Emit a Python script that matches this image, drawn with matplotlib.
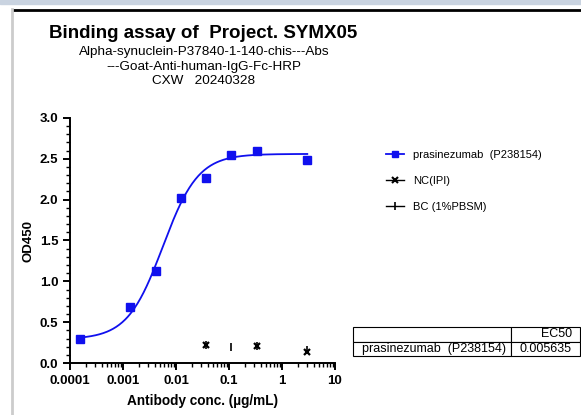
import numpy as np
import matplotlib.pyplot as plt
from matplotlib.ticker import FixedLocator, MultipleLocator, LogLocator, NullFormatter
from matplotlib.lines import Line2D
from matplotlib.patches import Rectangle

plt.rcParams['font.family'] = ['Liberation Sans', 'DejaVu Sans']

# -----------------------------------------------------
# data
# -----------------------------------------------------
conc = [0.000152, 0.00137, 0.00412, 0.0123, 0.037, 0.111, 0.333, 3.0]
od_sample = [0.30, 0.68, 1.13, 2.02, 2.27, 2.55, 2.60, 2.48]

nc_conc = [0.037, 0.333, 3.0]
nc_od = [0.22, 0.21, 0.14]

bc_conc = [0.037, 0.111, 0.333, 3.0]
bc_od = [0.22, 0.19, 0.21, 0.16]

# 4PL fit parameters
fit_bottom = 0.29
fit_top = 2.56
fit_ec50 = 0.005635
fit_hill = 1.3

sample_name = "prasinezumab  (P238154)"
ec50_text = "0.005635"

xtick_vals = [0.0001, 0.001, 0.01, 0.1, 1, 10]
xtick_labels = ["0.0001", "0.001", "0.01", "0.1", "1", "10"]

# -----------------------------------------------------

fig = plt.figure(figsize=(5.81, 4.15), dpi=100)

# window frame bits
fig.patches.append(Rectangle((0, 1 - 4 / 415), 1, 4 / 415, transform=fig.transFigure,
                             color="#c9d3e0", zorder=0))
fig.add_artist(Line2D([13 / 581, 1], [1 - 10.5 / 415, 1 - 10.5 / 415],
                      transform=fig.transFigure, color="black", lw=2))
fig.add_artist(Line2D([11.5 / 581, 11.5 / 581], [0, 1 - 9 / 415],
                      transform=fig.transFigure, color="#cccccc", lw=2))

ax = fig.add_axes([70 / 581, 1 - 363 / 415, 265 / 581, 245 / 415])

xfit = np.logspace(np.log10(conc[0]), np.log10(conc[-1]), 300)
yfit = fit_bottom + (fit_top - fit_bottom) / (1 + (fit_ec50 / xfit) ** fit_hill)
ax.plot(xfit, yfit, color="#1010ee", lw=1.3)
ax.plot(conc, od_sample, "s", color="#1010ee", ms=5.5, ls="none")
ax.plot(nc_conc, nc_od, "x", color="black", ms=4.5, mew=1.6, ls="none")
ax.plot(bc_conc, bc_od, "|", color="black", ms=6, mew=1.2, ls="none")

ax.set_xscale("log")
ax.set_xlim(0.0001, 10)
ax.set_ylim(0, 3.0)
ax.xaxis.set_major_locator(FixedLocator(xtick_vals))
ax.set_xticklabels(xtick_labels)
ax.xaxis.set_minor_locator(LogLocator(base=10, subs=np.arange(2, 10)))
ax.xaxis.set_minor_formatter(NullFormatter())
ax.yaxis.set_major_locator(MultipleLocator(0.5))
ax.yaxis.set_minor_locator(MultipleLocator(0.1))
ax.set_yticklabels(["%.1f" % v for v in ax.get_yticks()])

for side in ["top", "right"]:
    ax.spines[side].set_visible(False)
for side in ["left", "bottom"]:
    ax.spines[side].set_linewidth(1.4)
ax.tick_params(which="major", length=5, width=1.4, labelsize=9.5)
ax.tick_params(which="minor", length=3, width=1.0)
for lab in ax.get_xticklabels() + ax.get_yticklabels():
    lab.set_fontweight("bold")

ax.set_xlabel("Antibody conc. (\u00b5g/mL)", fontsize=9.8, fontweight="bold", labelpad=5)
ax.set_ylabel("OD450", fontsize=9.5, fontweight="bold", labelpad=4)

# titles
fig.text(49 / 581, 1 - 33 / 415, "Binding assay of  Project. SYMX05", fontsize=13.5,
         fontweight="bold", va="center", ha="left")
fig.text(204 / 581, 1 - 52 / 415, "Alpha-synuclein-P37840-1-140-chis---Abs", fontsize=9.7,
         va="center", ha="center")
fig.text(204 / 581, 1 - 67 / 415, "---Goat-Anti-human-IgG-Fc-HRP", fontsize=9.7,
         va="center", ha="center")
fig.text(204 / 581, 1 - 81 / 415, "CXW   20240328", fontsize=9.7, va="center", ha="center")

# legend
handles = [
    Line2D([], [], color="#1010ee", marker="s", ms=5, lw=1.3),
    Line2D([], [], color="black", marker="x", ms=4, mew=1.5, lw=1.0),
    Line2D([], [], color="black", marker="|", ms=6, mew=1.2, lw=1.0),
]
fig.legend(handles, [sample_name, "NC(IPI)", "BC (1%PBSM)"],
           loc="upper left", bbox_to_anchor=(376 / 581, 1 - 140 / 415),
           frameon=False, fontsize=8, handlelength=1.6, labelspacing=1.45,
           handletextpad=0.8)

# EC50 table
tab_ax = fig.add_axes([353 / 581, 1 - 356 / 415, 227 / 581, 29 / 415])
tab_ax.axis("off")
tbl = tab_ax.table(cellText=[["", "EC50"], [sample_name, ec50_text]],
                   colWidths=[158 / 227, 69 / 227], bbox=[0, 0, 1, 1])
tbl.auto_set_font_size(False)
for (r, c), cell in tbl.get_celld().items():
    cell.set_linewidth(0.8)
    cell.get_text().set_fontsize(9)
    if c == 1:
        cell.PAD = 0.12
        cell.get_text().set_ha("right")
        cell._loc = "right"
    else:
        cell.PAD = 0.06
        cell.get_text().set_ha("left")
        cell._loc = "left"

fig.savefig("out.png", dpi=100)
